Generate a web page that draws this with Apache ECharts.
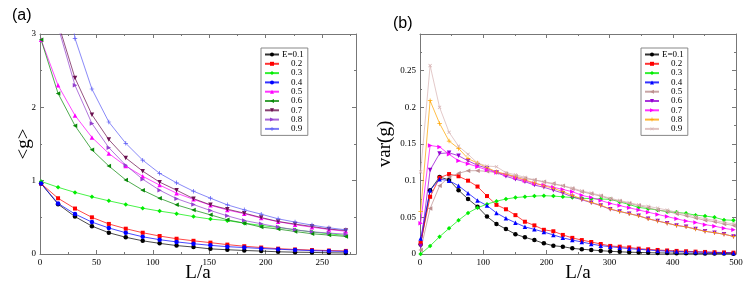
<!DOCTYPE html>
<html>
<head>
<meta charset="utf-8">
<script src="https://cdn.jsdelivr.net/npm/echarts@6/dist/echarts.min.js"></script>
<style>html,body{margin:0;padding:0;background:#fff}#c{width:747px;height:288px}</style>
</head>
<body>
<div id="c"></div>
<script>
// ---------- panel (a): <g> vs L/a ----------
const xA = [1,16,31,46,61,76,91,106,121,136,151,166,181,196,211,226,241,256,271];
const namesA = ['E=0.1','0.2','0.3','0.4','0.5','0.6','0.7','0.8','0.9'];
const g01 = [0.96,0.68,0.51,0.38,0.29,0.228,0.18,0.145,0.115,0.095,0.07,0.058,0.048,0.04,0.03,0.025,0.022,0.016,0.014];
const g02 = [0.96,0.76,0.62,0.50,0.41,0.345,0.29,0.245,0.208,0.18,0.155,0.128,0.106,0.088,0.073,0.062,0.054,0.047,0.042];
const g03 = [0.99,0.91,0.84,0.78,0.725,0.675,0.625,0.585,0.55,0.51,0.476,0.455,0.421,0.389,0.362,0.33,0.30,0.276,0.253];
const g04 = [0.96,0.69,0.545,0.435,0.355,0.29,0.235,0.195,0.165,0.14,0.118,0.10,0.088,0.075,0.065,0.055,0.046,0.04,0.035];
const g05 = [2.92,2.30,1.89,1.59,1.37,1.20,1.06,0.94,0.83,0.745,0.665,0.60,0.55,0.49,0.44,0.40,0.365,0.335,0.31];
const g06 = [2.92,2.19,1.75,1.42,1.20,1.01,0.87,0.76,0.67,0.60,0.534,0.466,0.421,0.367,0.34,0.307,0.276,0.258,0.239];
const g07 = [3.6,3.15,2.40,1.90,1.56,1.31,1.13,0.98,0.87,0.755,0.67,0.611,0.557,0.497,0.443,0.408,0.375,0.34,0.32];
const g08 = [3.5,3.1,2.30,1.78,1.45,1.21,1.02,0.87,0.755,0.674,0.593,0.52,0.457,0.412,0.367,0.33,0.303,0.285,0.27];
const g09 = [6.0,4.5,2.94,2.25,1.80,1.51,1.28,1.10,0.97,0.856,0.761,0.67,0.602,0.543,0.48,0.435,0.394,0.357,0.33];
const xTicksA = [0,50,100,150,200,250];
const yTicksA = [0,1,2,3];

// ---------- panel (b): var(g) vs L/a ----------
const xB = [1,16,31,46,61,76,91,106,121,136,151,166,181,196,211,226,241,256,271,286,301,316,331,346,361,376,391,406,421,436,451,466,481,496];
const namesB = ['E=0.1','0.2','0.3','0.4','0.5','0.6','0.7','0.8','0.9'];
const v01 = [0.013,0.087,0.105,0.101,0.087,0.075,0.0645,0.051,0.041,0.034,0.027,0.0227,0.019,0.0145,0.0113,0.010,0.0077,0.0065,0.0055,0.0045,0.0037,0.003,0.0025,0.0021,0.0018,0.0015,0.0013,0.0011,0.001,0.0009,0.0008,0.0007,0.0006,0.0005];
const v02 = [0.015,0.078,0.104,0.109,0.106,0.100,0.092,0.079,0.067,0.061,0.053,0.044,0.039,0.033,0.031,0.026,0.022,0.019,0.0164,0.0136,0.011,0.010,0.009,0.0073,0.0064,0.0055,0.0048,0.0042,0.0037,0.0032,0.0028,0.0024,0.0021,0.0018];
const v03 = [0.0,0.011,0.0236,0.035,0.046,0.056,0.063,0.068,0.072,0.075,0.077,0.078,0.079,0.0795,0.079,0.078,0.077,0.076,0.0755,0.075,0.0745,0.071,0.0675,0.0636,0.0618,0.060,0.0577,0.0568,0.0554,0.053,0.0518,0.050,0.0465,0.046];
const v04 = [0.021,0.087,0.102,0.100,0.093,0.083,0.073,0.066,0.056,0.0487,0.0427,0.037,0.0336,0.030,0.026,0.022,0.019,0.0164,0.0136,0.0114,0.010,0.0086,0.0073,0.0064,0.0055,0.0045,0.004,0.0035,0.003,0.0027,0.0024,0.0021,0.0018,0.0015];
const v05 = [0.0055,0.062,0.093,0.105,0.110,0.1136,0.1136,0.1127,0.111,0.109,0.106,0.103,0.101,0.0986,0.096,0.093,0.089,0.085,0.082,0.079,0.075,0.072,0.069,0.066,0.063,0.060,0.058,0.055,0.052,0.049,0.046,0.044,0.041,0.039];
const v06 = [0.011,0.1145,0.137,0.138,0.134,0.127,0.121,0.117,0.111,0.106,0.102,0.0986,0.094,0.091,0.087,0.083,0.078,0.074,0.070,0.066,0.061,0.058,0.055,0.052,0.048,0.045,0.042,0.039,0.037,0.034,0.031,0.029,0.027,0.024];
const v07 = [0.042,0.148,0.146,0.136,0.127,0.123,0.119,0.1145,0.111,0.108,0.104,0.100,0.096,0.094,0.091,0.088,0.085,0.080,0.077,0.073,0.069,0.066,0.063,0.060,0.057,0.054,0.051,0.048,0.045,0.043,0.040,0.038,0.035,0.033];
const v08 = [0.058,0.209,0.178,0.154,0.144,0.130,0.124,0.118,0.112,0.109,0.105,0.101,0.097,0.093,0.0895,0.085,0.080,0.075,0.0705,0.0665,0.0615,0.058,0.055,0.052,0.048,0.045,0.042,0.039,0.037,0.034,0.031,0.029,0.027,0.024];
const v09 = [0.112,0.257,0.200,0.166,0.147,0.136,0.124,0.120,0.119,0.111,0.108,0.1045,0.101,0.098,0.095,0.093,0.090,0.086,0.083,0.080,0.076,0.073,0.070,0.067,0.065,0.0625,0.060,0.057,0.054,0.051,0.048,0.046,0.043,0.041];
const xTicksB = [0,100,200,300,400,500];
const yTicksB = [0,0.05,0.1,0.15,0.2,0.25];

// ---------- styling ----------
const SERIF = "'Liberation Serif', 'DejaVu Serif', serif";
const SANS = "'Liberation Sans', Arial, sans-serif";
const AX = '#777';
const P_PLUS = 'path://M-0.16,-1L0.16,-1L0.16,-0.16L1,-0.16L1,0.16L0.16,0.16L0.16,1L-0.16,1L-0.16,0.16L-1,0.16L-1,-0.16L-0.16,-0.16Z';
const P_LEFT = 'path://M-1,0L1,-1L1,1Z';
const P_RIGHT = 'path://M1,0L-1,-1L-1,1Z';
const P_DOWN = 'path://M-1,-1L1,-1L0,1Z';

const colorsA = ['#000000','#ff0000','#00ee00','#0000ff','#ff00ff','#0a8a0a','#6b1050','#9440d0','#5a5af5'];
const symbolsA = ['circle','rect','diamond','circle','triangle',P_LEFT,P_DOWN,P_RIGHT,P_PLUS];
const rotA = [0,0,0,0,0,0,0,0,0];
const colorsB = ['#000000','#ff0000','#00ee00','#0000ff','#bc8f8f','#9400d3','#ff00ff','#ffa500','#d8b4b4'];
const symbolsB = ['circle','rect','diamond','triangle',P_LEFT,P_DOWN,P_RIGHT,P_PLUS,P_PLUS];
const rotB = [0,0,0,0,0,0,0,0,45];

const dataA = [g01,g02,g03,g04,g05,g06,g07,g08,g09];
const dataB = [v01,v02,v03,v04,v05,v06,v07,v08,v09];
const ZW = '\u200b';

function mkSeries(xs, ys, name, color, symbol, rot, axisIdx) {
  return {
    type: 'line', name: name,
    xAxisIndex: axisIdx, yAxisIndex: axisIdx,
    data: xs.map((x, i) => [x, ys[i]]),
    symbol: symbol, symbolSize: symbol === 'rect' ? 4 : 4.5, symbolRotate: rot,
    showSymbol: true, clip: true,
    lineStyle: { color: color, width: 0.9, opacity: 0.8 },
    itemStyle: { color: color },
    emphasis: { disabled: true },
    animation: false
  };
}

const series = [];
for (let i = 0; i < 9; i++) series.push(mkSeries(xA, dataA[i], namesA[i], colorsA[i], symbolsA[i], rotA[i], 0));
for (let i = 0; i < 9; i++) series.push(mkSeries(xB, dataB[i], namesB[i] + ZW, colorsB[i], symbolsB[i], rotB[i], 1));

function xAx(grid, min, max, interval, ticks, showLabel, pos, name) {
  return {
    type: 'value', gridIndex: grid, position: pos, min: min, max: max, interval: interval,
    name: name, nameLocation: 'middle', nameGap: 10, nameMoveOverlap: false,
    nameTextStyle: { fontFamily: SERIF, fontSize: 19, color: '#000', verticalAlign: 'top' },
    axisLine: { show: true, onZero: false, lineStyle: { color: AX, width: 1 } },
    axisTick: { show: true, inside: true, length: 4, lineStyle: { color: AX } },
    minorTick: { show: true, splitNumber: 2, length: 2, lineStyle: { color: AX } },
    splitLine: { show: false },
    axisLabel: { show: showLabel, fontFamily: SERIF, fontSize: 9, color: '#000', margin: 4,
      showMaxLabel: ticks.indexOf(max) >= 0, showMinLabel: true,
      formatter: v => (ticks.indexOf(v) >= 0 ? String(v) : '') }
  };
}
function yAx(grid, min, max, interval, ticks, showLabel, pos, name, gap) {
  return {
    type: 'value', gridIndex: grid, position: pos, min: min, max: max, interval: interval,
    name: name, nameLocation: 'middle', nameGap: gap, nameMoveOverlap: false,
    nameTextStyle: { fontFamily: SERIF, fontSize: 19, color: '#000' },
    axisLine: { show: true, onZero: false, lineStyle: { color: AX, width: 1 } },
    axisTick: { show: true, inside: true, length: 4, lineStyle: { color: AX } },
    minorTick: { show: true, splitNumber: 2, length: 2, lineStyle: { color: AX } },
    splitLine: { show: false },
    axisLabel: { show: showLabel, fontFamily: SERIF, fontSize: 9, color: '#000', margin: 4,
      showMaxLabel: ticks.indexOf(max) >= 0,
      formatter: v => { const r = Math.round(v * 1000) / 1000; return ticks.indexOf(r) >= 0 ? String(r) : ''; } }
  };
}

function mkLegend(names, left) {
  return {
    orient: 'vertical', left: left, top: 48,
    data: names, selectedMode: false,
    itemWidth: 14, itemHeight: 5, itemGap: 0.3,
    padding: [2, 4, 2, 3],
    borderColor: '#888', borderWidth: 1, backgroundColor: '#fff',
    textStyle: { fontFamily: SERIF, fontSize: 9, lineHeight: 9, color: '#000', padding: [0,0,0,-2] },
    formatter: n => (n.indexOf('E=') === 0 ? n : '\u2002\u2002' + n)
  };
}

const option = {
  backgroundColor: '#fff',
  animation: false,
  title: [
    { text: '(a)', left: 12, top: 8, padding: 0, textStyle: { fontFamily: SANS, fontSize: 16, fontWeight: 'normal', color: '#000' } },
    { text: '(b)', left: 393, top: 16, padding: 0, textStyle: { fontFamily: SANS, fontSize: 16, fontWeight: 'normal', color: '#000' } }
  ],
  grid: [
    { left: 40, top: 34, width: 316, height: 220, containLabel: false, outerBoundsMode: 'none' },
    { left: 420, top: 34, width: 316, height: 220, containLabel: false, outerBoundsMode: 'none' }
  ],
  xAxis: [
    xAx(0, 0, 280, 50, xTicksA, true, 'bottom', 'L/a'),
    xAx(1, 0, 500, 100, xTicksB, true, 'bottom', 'L/a'),
    xAx(0, 0, 280, 50, xTicksA, false, 'top', ''),
    xAx(1, 0, 500, 100, xTicksB, false, 'top', '')
  ],
  yAxis: [
    yAx(0, 0, 3, 1, yTicksA, true, 'left', '<g>', 6),
    yAx(1, 0, 0.3, 0.05, yTicksB, true, 'left', 'var(g)', 25),
    yAx(0, 0, 3, 1, yTicksA, false, 'right', '', 0),
    yAx(1, 0, 0.3, 0.05, yTicksB, false, 'right', '', 0)
  ],
  legend: [
    mkLegend(namesA, 261),
    mkLegend(namesB.map(n => n + ZW), 641)
  ],
  series: series
};

const chart = echarts.init(document.getElementById('c'), null, { renderer: 'canvas' });
chart.setOption(option);
</script>
</body>
</html>
